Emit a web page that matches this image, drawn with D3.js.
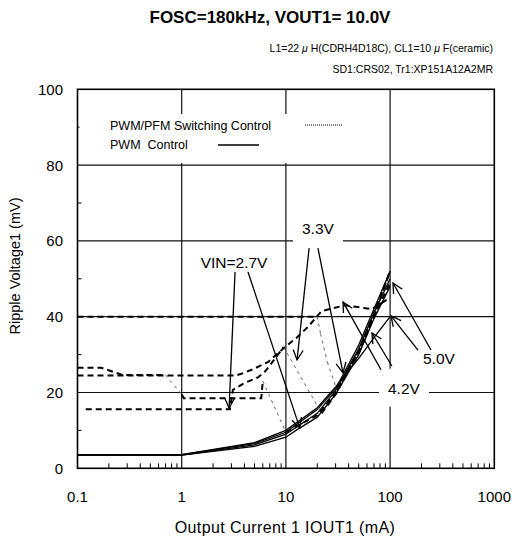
<!DOCTYPE html>
<html><head><meta charset="utf-8">
<script src="https://cdn.jsdelivr.net/npm/d3@7/dist/d3.min.js"></script>
<style>body{margin:0;background:#fff} text{font-family:"Liberation Sans",Arial,sans-serif;fill:#000}</style>
</head><body><svg id="c" width="515" height="540"></svg>
<script>
// ---- data ----
const xTicks = [0.1, 1, 10, 100, 1000];
const xTickLabels = ["0.1", "1", "10", "100", "1000"];
const yTicks = [0, 20, 40, 60, 80, 100];
const yTickLabels = ["0", "20", "40", "60", "80", "100"];

// PWM control (solid)
const pwm27 = [[0.1,3.5],[1,3.5],[5,5.8],[10,8.2],[12.5,10],[20,13.5],[30,19.5],[50,30],[70,39.5],[100,48]];
const pwm33 = [[0.1,3.5],[1,3.5],[5,6.2],[10,9],[20,14.5],[30,20.5],[50,31.5],[70,41],[100,50]];
const pwm42 = [[0.1,3.6],[1,3.6],[5,6.5],[10,9.5],[20,15.5],[30,21],[50,32.5],[70,42],[100,52]];
const pwm50 = [[0.1,3.6],[1,3.6],[5,6.8],[10,10],[20,16],[30,21.5],[50,29],[70,34.5],[100,40]];

// PWM/PFM switching control (dashed)
const pfm27 = [[0.12,15.6],[1,15.6],[2.9,15.6],[3.1,20.7],[4,22.5],[5.4,24],[6.3,25.5],[7.4,28],[9.5,32],[22,14.5],[30,19.5],[50,30.5],[70,40],[100,49]];
const pfm33 = [[0.1,26.5],[0.17,26.5],[0.27,24.6],[0.7,24.6],[1,19.5],[1.05,18.5],[5.8,18.5],[6,23],[10,9.5],[20,14],[30,20],[50,31],[70,41],[100,52]];
const pfm42 = [[0.1,24.5],[3.3,24.5],[3.8,25],[4.7,26],[6.7,28],[9.8,32],[12.6,34.4],[16.3,37.3],[22,41.5],[37,43],[67,42],[100,45]];
const pfm50 = [[0.1,40],[20,40],[21.5,35.5],[25,28],[31,20.6],[50,31],[70,40],[100,52]];

// annotations: label text, label position (mA, mV), arrows [from, to] in (mA, mV)
const annLabels = ["VIN=2.7V", "3.3V", "4.2V", "5.0V"];
const annPos = [[3.18,54.4],[20.3,63.4],[135.8,21],[294,29.1]];
const annBox = [false, true, true, false];
const annArrows = [
  [[[3.25,51.8],[2.85,15.9]], [[4.33,51.8],[13.6,10.6]]],
  [[[16.7,58.1],[12.8,28.6]], [[20.3,58.1],[35.3,25.2]]],
  [[[81.8,26],[35.3,43.9]], [[104,27],[67,35.7]]],
  [[[247,31.2],[106.6,48.9]], [[185,31.2],[102,40.2]]]
];
const legendLabels = ["PWM/PFM Switching Control", "PWM  Control"];

// ---- chart ----
const svg = d3.select("#c");
const L = 77.5, R = 494.3, T = 89.3, B = 468.3;
const x = d3.scaleLog().domain([0.1, 1000]).range([L, R]);
const y = d3.scaleLinear().domain([0, 100]).range([B, T]);

// title
svg.append("text").attr("x", 270).attr("y", 23).attr("text-anchor", "middle")
  .attr("font-size", 17).attr("font-weight", "bold").text("FOSC=180kHz, VOUT1= 10.0V");
const st1 = svg.append("text").attr("x", 493).attr("y", 52).attr("text-anchor", "end").attr("font-size", 10.5);
st1.append("tspan").text("L1=22 ");
st1.append("tspan").attr("font-style", "italic").text("μ");
st1.append("tspan").text(" H(CDRH4D18C), CL1=10 ");
st1.append("tspan").attr("font-style", "italic").text("μ");
st1.append("tspan").text(" F(ceramic)");
svg.append("text").attr("x", 493).attr("y", 73).attr("text-anchor", "end").attr("font-size", 10.5)
  .text("SD1:CRS02, Tr1:XP151A12A2MR");

// grid
const g = svg.append("g");
yTicks.slice(1, -1).forEach(v => g.append("line").attr("x1", L).attr("x2", R).attr("y1", y(v)).attr("y2", y(v))
  .attr("stroke", "#111").attr("stroke-width", 1.2));
xTicks.slice(1, -1).forEach(v => g.append("line").attr("y1", T).attr("y2", B).attr("x1", x(v)).attr("x2", x(v))
  .attr("stroke", "#111").attr("stroke-width", 1.2));

// minor ticks
const minorX = [];
for (let d = 0.1; d < 1000; d *= 10) for (let k = 2; k <= 9; k++) minorX.push(d * k);
minorX.forEach(v => g.append("line").attr("x1", x(v)).attr("x2", x(v)).attr("y1", B).attr("y2", B - 5)
  .attr("stroke", "#000").attr("stroke-width", 1));
d3.range(10, 100, 20).forEach(v => g.append("line").attr("x1", L).attr("x2", L + 4).attr("y1", y(v)).attr("y2", y(v))
  .attr("stroke", "#000").attr("stroke-width", 1));

// tick labels
yTicks.forEach((v, i) => svg.append("text").attr("x", 63).attr("y", y(v)).attr("dy", "0.36em")
  .attr("text-anchor", "end").attr("font-size", 15).text(yTickLabels[i]));
xTicks.forEach((v, i) => svg.append("text").attr("x", x(v)).attr("y", 502)
  .attr("text-anchor", "middle").attr("font-size", 15).text(xTickLabels[i]));

// axis titles
svg.append("text").attr("x", 285).attr("y", 533).attr("text-anchor", "middle").attr("font-size", 16)
  .attr("letter-spacing", 0.4).text("Output Current 1 IOUT1 (mA)");
svg.append("text").attr("transform", "translate(20,266) rotate(-90)").attr("text-anchor", "middle")
  .attr("font-size", 14.5).text("Ripple Voltage1 (mV)");

// legend box
svg.append("rect").attr("x", L + 2).attr("y", 114).attr("width", 282).attr("height", 49).attr("fill", "#fff");
svg.append("text").attr("x", 110).attr("y", 130).attr("font-size", 12.5).text(legendLabels[0]);
svg.append("text").attr("x", 110).attr("y", 149).attr("font-size", 12.5).style("white-space", "pre").text(legendLabels[1]);
svg.append("line").attr("x1", 305).attr("x2", 343).attr("y1", 125).attr("y2", 125)
  .attr("stroke", "#000").attr("stroke-width", 1).attr("stroke-dasharray", "1,1");
svg.append("line").attr("x1", 218).attr("x2", 259).attr("y1", 145).attr("y2", 145)
  .attr("stroke", "#000").attr("stroke-width", 1.3);

// annotation label boxes
annLabels.forEach((t, i) => {
  const cx = x(annPos[i][0]), cy = y(annPos[i][1]);
  if (annBox[i]) {
    const w = t.length * 9 + 14;
    svg.append("rect").attr("x", cx - w / 2).attr("y", cy - 20).attr("width", w).attr("height", 38).attr("fill", "#fff");
  }
});

// curves
const line = d3.line().x(d => x(d[0])).y(d => y(d[1]));
[pwm27, pwm33, pwm42, pwm50].forEach(s => svg.append("path").attr("d", line(s))
  .attr("fill", "none").attr("stroke", "#000").attr("stroke-width", 1.3));

[pfm27, pfm33, pfm42, pfm50].forEach(s => {
  let run = [s[0]];
  const flush = () => { if (run.length > 1) svg.append("path").attr("d", line(run)).attr("fill", "none")
      .attr("stroke", "#000").attr("stroke-width", 2).attr("stroke-dasharray", "6,4"); };
  for (let i = 1; i < s.length; i++) {
    const a = s[i - 1], b = s[i];
    if (b[1] < a[1] - 3) {
      flush();
      svg.append("path").attr("d", line([a, b])).attr("fill", "none")
        .attr("stroke", "#666").attr("stroke-width", 1).attr("stroke-dasharray", "3,4");
      run = [b];
    } else run.push(b);
  }
  flush();
});

// arrows
const defs = svg.append("defs");
defs.append("marker").attr("id", "ah").attr("viewBox", "0 0 12 12").attr("refX", 11).attr("refY", 6)
  .attr("markerWidth", 12).attr("markerHeight", 12).attr("markerUnits", "userSpaceOnUse").attr("orient", "auto")
  .append("path").attr("d", "M1,1 L11,6 L1,11").attr("fill", "none").attr("stroke", "#000").attr("stroke-width", 1.3);
annArrows.forEach(arr => arr.forEach(([f, t]) => {
  svg.append("line").attr("x1", x(f[0])).attr("y1", y(f[1])).attr("x2", x(t[0])).attr("y2", y(t[1]))
    .attr("stroke", "#000").attr("stroke-width", 1.3).attr("marker-end", "url(#ah)");
}));

// annotation texts
annLabels.forEach((t, i) => svg.append("text").attr("x", x(annPos[i][0])).attr("y", y(annPos[i][1])).attr("dy", "0.36em")
  .attr("text-anchor", "middle").attr("font-size", 15.5).text(t));

// border
svg.append("rect").attr("x", L).attr("y", T).attr("width", R - L).attr("height", B - T)
  .attr("fill", "none").attr("stroke", "#000").attr("stroke-width", 1.6);
</script></body></html>
